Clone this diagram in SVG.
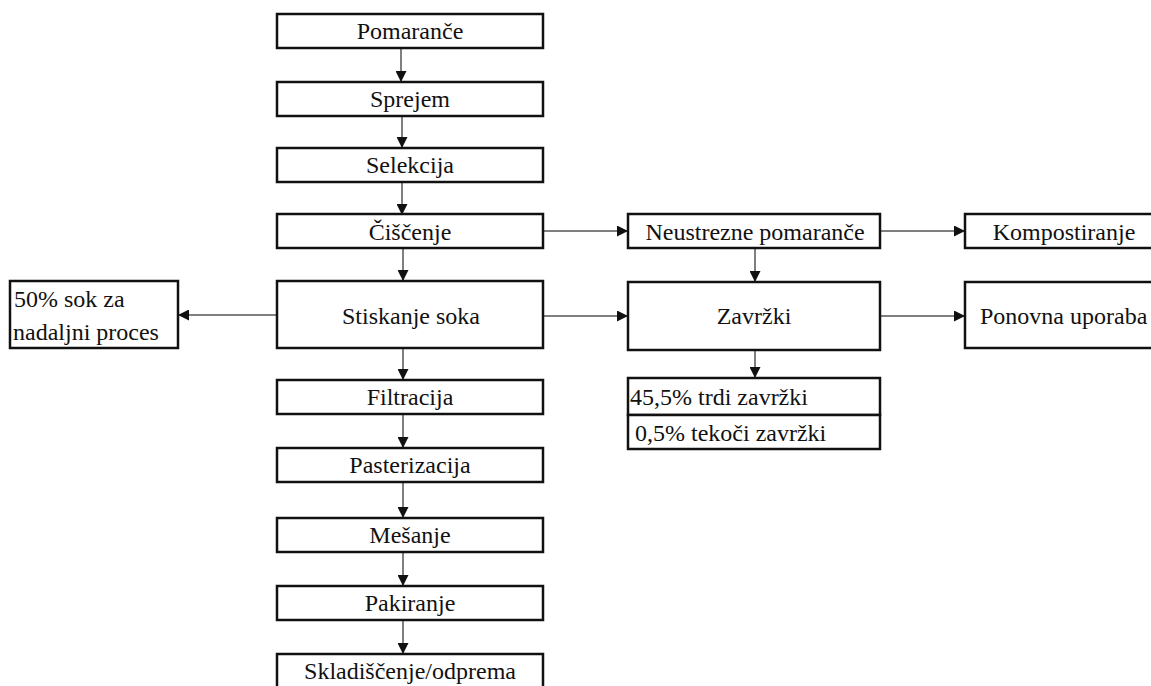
<svg xmlns="http://www.w3.org/2000/svg" width="1151" height="686" viewBox="0 0 1151 686">
<style>
.box{fill:#fff;stroke:#111;stroke-width:2.5}
.t{font-family:'Liberation Serif','Times New Roman','DejaVu Serif',serif;font-size:24px;fill:#111}
.c{text-anchor:middle}
.ln{stroke:#555;stroke-width:1.5;fill:none;marker-end:url(#ah)}
</style>
<defs>
<marker id="ah" viewBox="0 0 10 10" refX="10" refY="5" markerWidth="11" markerHeight="11" markerUnits="userSpaceOnUse" orient="auto">
<path d="M0,0 L10,5 L0,10 Z" fill="#111"/>
</marker>
</defs>
<rect width="1151" height="686" fill="#fff"/>
<g id="connectors">
<line class="ln" x1="401" y1="48" x2="401" y2="82"/>
<line class="ln" x1="402" y1="116" x2="402" y2="148"/>
<line class="ln" x1="402" y1="182" x2="402" y2="215"/>
<line class="ln" x1="403" y1="248" x2="403" y2="281"/>
<line class="ln" x1="403" y1="348" x2="403" y2="380"/>
<line class="ln" x1="403" y1="414" x2="403" y2="448"/>
<line class="ln" x1="403" y1="482" x2="403" y2="518"/>
<line class="ln" x1="403" y1="552" x2="403" y2="586"/>
<line class="ln" x1="403" y1="620" x2="403" y2="654"/>
<line class="ln" x1="277" y1="315" x2="178" y2="315"/>
<line class="ln" x1="543" y1="231" x2="628" y2="231"/>
<line class="ln" x1="880" y1="231" x2="965" y2="231"/>
<line class="ln" x1="755" y1="248" x2="755" y2="282"/>
<line class="ln" x1="543" y1="316" x2="628" y2="316"/>
<line class="ln" x1="880" y1="316" x2="965" y2="316"/>
<line class="ln" x1="755" y1="350" x2="755" y2="378"/>
</g>
<g font-family="Liberation Serif, Times New Roman, DejaVu Serif, serif">
<g id="pomarance"><rect class="box" x="277" y="14" width="266" height="34"/><text class="t c" x="410" y="39">Pomaranče</text></g>
<g id="sprejem"><rect class="box" x="277" y="82" width="266" height="34"/><text class="t c" x="410" y="107">Sprejem</text></g>
<g id="selekcija"><rect class="box" x="277" y="148" width="266" height="34"/><text class="t c" x="410" y="173">Selekcija</text></g>
<g id="ciscenje"><rect class="box" x="277" y="214" width="266" height="34"/><text class="t c" x="410" y="240">Čiščenje</text></g>
<g id="stiskanje"><rect class="box" x="277" y="281" width="266" height="67"/><text class="t c" x="411" y="324">Stiskanje soka</text></g>
<g id="filtracija"><rect class="box" x="277" y="380" width="266" height="34"/><text class="t c" x="410" y="405">Filtracija</text></g>
<g id="pasterizacija"><rect class="box" x="277" y="448" width="266" height="34"/><text class="t c" x="410" y="473">Pasterizacija</text></g>
<g id="mesanje"><rect class="box" x="277" y="518" width="266" height="34"/><text class="t c" x="410" y="543">Mešanje</text></g>
<g id="pakiranje"><rect class="box" x="277" y="586" width="266" height="34"/><text class="t c" x="410" y="611">Pakiranje</text></g>
<g id="skladiscenje"><rect class="box" x="277" y="654" width="266" height="40"/><text class="t c" x="410" y="679">Skladiščenje/odprema</text></g>
<g id="sok50"><rect class="box" x="10" y="281" width="168" height="67"/><text class="t" x="14" y="307">50% sok za</text><text class="t" x="13" y="340">nadaljni proces</text></g>
<g id="neustrezne"><rect class="box" x="628" y="214" width="252" height="34"/><text class="t c" x="755" y="240">Neustrezne pomaranče</text></g>
<g id="kompostiranje"><rect class="box" x="965" y="214" width="200" height="34"/><text class="t c" x="1064" y="240">Kompostiranje</text></g>
<g id="zavrzki"><rect class="box" x="628" y="282" width="252" height="68"/><text class="t c" x="754" y="324">Zavržki</text></g>
<g id="ponovna"><rect class="box" x="965" y="282" width="200" height="66"/><text class="t" x="980" y="324">Ponovna uporaba</text></g>
<g id="trdi"><rect class="box" x="628" y="378" width="252" height="37"/><text class="t" x="630" y="405">45,5% trdi zavržki</text></g>
<g id="tekoci"><rect class="box" x="628" y="415" width="252" height="34"/><text class="t" x="635" y="441">0,5% tekoči zavržki</text></g>
</g>
</svg>
